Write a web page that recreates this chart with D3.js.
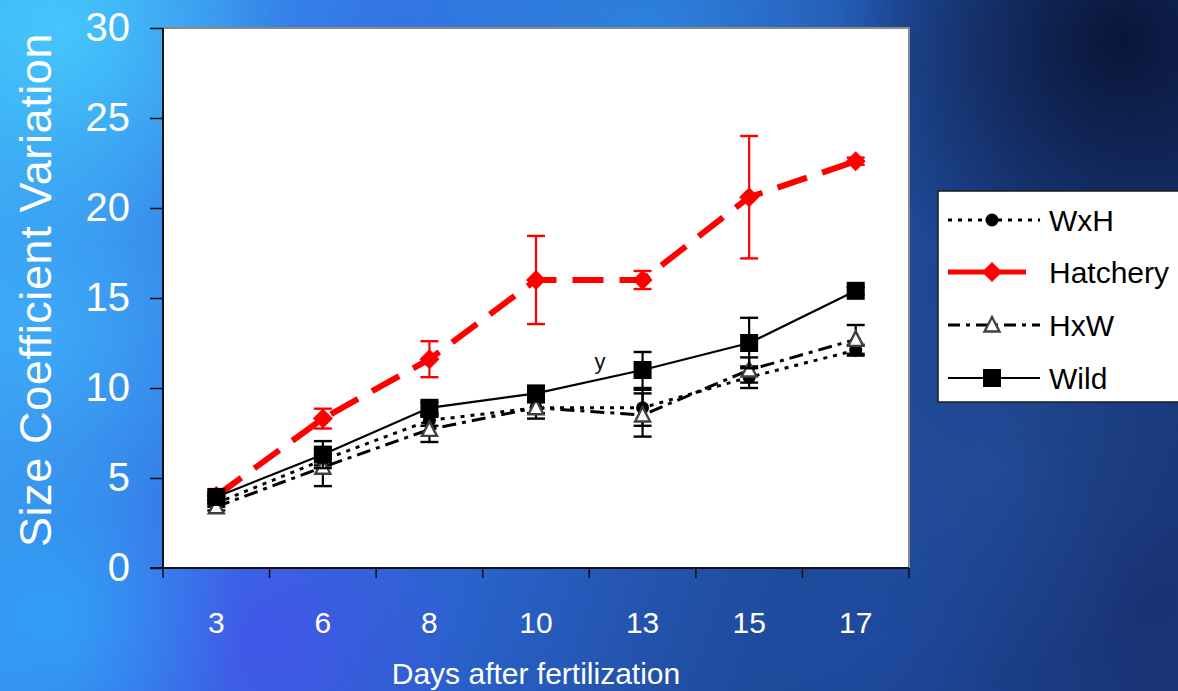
<!DOCTYPE html>
<html><head><meta charset="utf-8">
<script src="https://cdn.jsdelivr.net/npm/d3@7"></script>
<style>
html,body{margin:0;padding:0;overflow:hidden;background:#2a6ad8;}
svg{display:block;font-family:"Liberation Sans",Arial,sans-serif;}
</style></head>
<body>
<svg id="c" width="1178" height="691"></svg>
<script>
const days = ["3","6","8","10","13","15","17"];
const yTicks = [0,5,10,15,20,25,30];
const wxh = [3.6, 6.0, 8.2, 8.9, 8.9, 10.6, 12.1];
const wxhErr = [0.2, 0.3, 0.3, 0.3, 1.0, 0.6, 0.3];
const hatchery = [4.0, 8.3, 11.6, 16.0, 16.0, 20.6, 22.6];
const hatcheryErr = [0.2, 0.55, 1.0, 2.45, 0.5, 3.4, 0.2];
const hxw = [3.4, 5.6, 7.7, 8.9, 8.5, 11.0, 12.7];
const hxwErr = [0.2, 1.05, 0.7, 0.6, 1.2, 0.7, 0.8];
const wild = [3.95, 6.3, 8.9, 9.7, 11.0, 12.5, 15.4];
const wildErr = [0.2, 0.75, 0.3, 0.3, 1.0, 1.4, 0.2];
const seriesNames = ["WxH","Hatchery","HxW","Wild"];

const svg = d3.select("#c");
const W = 1178, H = 691;
const defs = svg.append("defs");

// background
const lg = defs.append("linearGradient").attr("id","bg").attr("x1","0").attr("y1","0").attr("x2","1").attr("y2","0.2");
[["0","#3aa6f2"],["0.3","#3478e6"],["0.55","#2a62cc"],["0.8","#1f4a98"],["1","#1a3a7e"]]
  .forEach(s=>lg.append("stop").attr("offset",s[0]).attr("stop-color",s[1]));
svg.append("rect").attr("width",W).attr("height",H).attr("fill","url(#bg)");
function blob(id,cx,cy,r,col,op){
  const g = defs.append("radialGradient").attr("id",id);
  g.append("stop").attr("offset","0").attr("stop-color",col).attr("stop-opacity",op);
  g.append("stop").attr("offset","1").attr("stop-color",col).attr("stop-opacity",0);
  svg.append("circle").attr("cx",cx).attr("cy",cy).attr("r",r).attr("fill",`url(#${id})`);
}
blob("b1",60,30,220,"#48d0ff",0.8);
blob("b2",40,330,200,"#40b8ff",0.6);
blob("b3",270,640,200,"#5040f0",0.55);
blob("b4",60,620,180,"#30b0ff",0.6);
blob("b5",650,40,260,"#30a8f0",0.45);
blob("b6",1120,40,280,"#060e2a",0.85);
blob("b7",1150,600,220,"#182a6a",0.5);
blob("b8",880,640,260,"#2050b0",0.5);
blob("b9",1000,470,200,"#2a5aa8",0.4);

const L=163, R=909, T=28, B=568;
const x = d3.scaleBand().domain(days).range([L,R]);
const y = d3.scaleLinear().domain([0,30]).range([B,T]);

// plot area
svg.append("rect").attr("x",L).attr("y",T).attr("width",R-L).attr("height",B-T).attr("fill","#ffffff");
svg.append("path").attr("d",`M${L},${T}H${R}V${B}`).attr("fill","none").attr("stroke","#8a8a8a").attr("stroke-width",2);

// y axis
const ya = svg.append("g").attr("transform",`translate(${L},0)`)
  .call(d3.axisLeft(y).tickValues(yTicks).tickSize(13).tickPadding(20).tickFormat(d3.format("d")));
ya.select(".domain").attr("stroke","#111").attr("stroke-width",2).attr("d",`M0,${T}V${B}`);
ya.selectAll(".tick line").attr("stroke","#111").attr("stroke-width",1.5);
ya.selectAll(".tick text").attr("fill","#ffffff").attr("font-size",40).attr("font-family","Liberation Sans, Arial, sans-serif");

// x axis
const xa = svg.append("g").attr("transform",`translate(0,${B})`)
  .call(d3.axisBottom(x).tickSize(0).tickPadding(44));
xa.select(".domain").attr("stroke","#111").attr("stroke-width",2).attr("d",`M${L-13},0H${R}`);
xa.selectAll(".tick text").attr("fill","#ffffff").attr("font-size",30).attr("font-family","Liberation Sans, Arial, sans-serif");
const bounds = days.map(d=>x(d)).concat([x(days[days.length-1])+x.bandwidth()]);
xa.selectAll("line.bt").data(bounds).enter().append("line").attr("class","bt")
  .attr("x1",d=>d).attr("x2",d=>d).attr("y1",0).attr("y2",10).attr("stroke","#111").attr("stroke-width",1.5);

// titles
svg.append("text").attr("x",(L+R)/2).attr("y",684).attr("text-anchor","middle")
  .attr("fill","#fff").attr("font-size",30).text("Days after fertilization");
svg.append("text").attr("transform",`translate(51,${(T+B)/2-8}) rotate(-90)`).attr("text-anchor","middle")
  .attr("fill","#fff").attr("font-size",45).attr("letter-spacing",0.6).text("Size Coefficient Variation");

const cx = d => x(d)+x.bandwidth()/2;

const styles = {
  "WxH":{vals:wxh,err:wxhErr,color:"#000",width:3,dash:"4,6",marker:"circle"},
  "Hatchery":{vals:hatchery,err:hatcheryErr,color:"#ff0000",width:6,dash:"31,16",marker:"diamond"},
  "HxW":{vals:hxw,err:hxwErr,color:"#000",width:3,dash:"14,6,4,6",marker:"triangle"},
  "Wild":{vals:wild,err:wildErr,color:"#000",width:2.2,dash:null,marker:"square"}
};
const drawOrder = ["Hatchery","WxH","HxW","Wild"];

function marker(g, type, px, py, color){
  if(type==="circle") g.append("circle").attr("cx",px).attr("cy",py).attr("r",6.5).attr("fill","#000");
  if(type==="diamond") g.append("path").attr("d",`M${px},${py-10}L${px+10},${py}L${px},${py+10}L${px-10},${py}Z`).attr("fill",color);
  if(type==="triangle") g.append("path").attr("d",`M${px},${py-8}L${px+7.5},${py+6.5}L${px-7.5},${py+6.5}Z`).attr("fill","#fff").attr("stroke","#404040").attr("stroke-width",2.4);
  if(type==="square") g.append("rect").attr("x",px-9).attr("y",py-9).attr("width",18).attr("height",18).attr("fill","#000");
}

drawOrder.forEach(name=>{
  const s = styles[name];
  const g = svg.append("g");
  const pts = days.map((d,i)=>({d, v:s.vals[i], e:s.err[i]}));
  pts.forEach(p=>{
    const ex = cx(p.d);
    g.append("line").attr("x1",ex).attr("x2",ex).attr("y1",y(p.v+p.e)).attr("y2",y(p.v-p.e)).attr("stroke",s.color).attr("stroke-width",2.2);
    [p.v+p.e,p.v-p.e].forEach(v=>g.append("line").attr("x1",ex-9).attr("x2",ex+9).attr("y1",y(v)).attr("y2",y(v)).attr("stroke",s.color).attr("stroke-width",2.4));
  });
  const line = d3.line().x(p=>cx(p.d)).y(p=>y(p.v));
  const path = g.append("path").datum(pts).attr("d",line).attr("fill","none").attr("stroke",s.color).attr("stroke-width",s.width);
  if(s.dash) path.attr("stroke-dasharray",s.dash);
  pts.forEach(p=>marker(g,s.marker,cx(p.d),y(p.v),s.color));
});

// annotation
svg.append("text").attr("x",600).attr("y",369).attr("text-anchor","middle").attr("font-size",22).attr("fill","#111").text("y");

// legend
const lgx = 938, lgy = 191;
svg.append("rect").attr("x",lgx).attr("y",lgy).attr("width",260).attr("height",211).attr("fill","#fff").attr("stroke","#1a1a1a").attr("stroke-width",1.5);
const legY = [220,272,325,378];
seriesNames.forEach((name,i)=>{
  const s = styles[name];
  const ly = legY[i];
  const g = svg.append("g");
  const p = g.append("line").attr("x1",948).attr("x2",1040).attr("y1",ly).attr("y2",ly).attr("stroke",s.color).attr("stroke-width",name==="Hatchery"?5:(name==="Wild"?2.2:3));
  if(name==="WxH") p.attr("stroke-dasharray","4,6");
  if(name==="HxW") p.attr("stroke-dasharray","12,6,4,6");
  if(name==="Hatchery") p.attr("x2",1026);
  marker(g,s.marker,992,ly,s.color);
  g.append("text").attr("x",1049).attr("y",ly+11).attr("font-size",30).attr("fill","#000").text(name);
});
</script>
</body></html>
